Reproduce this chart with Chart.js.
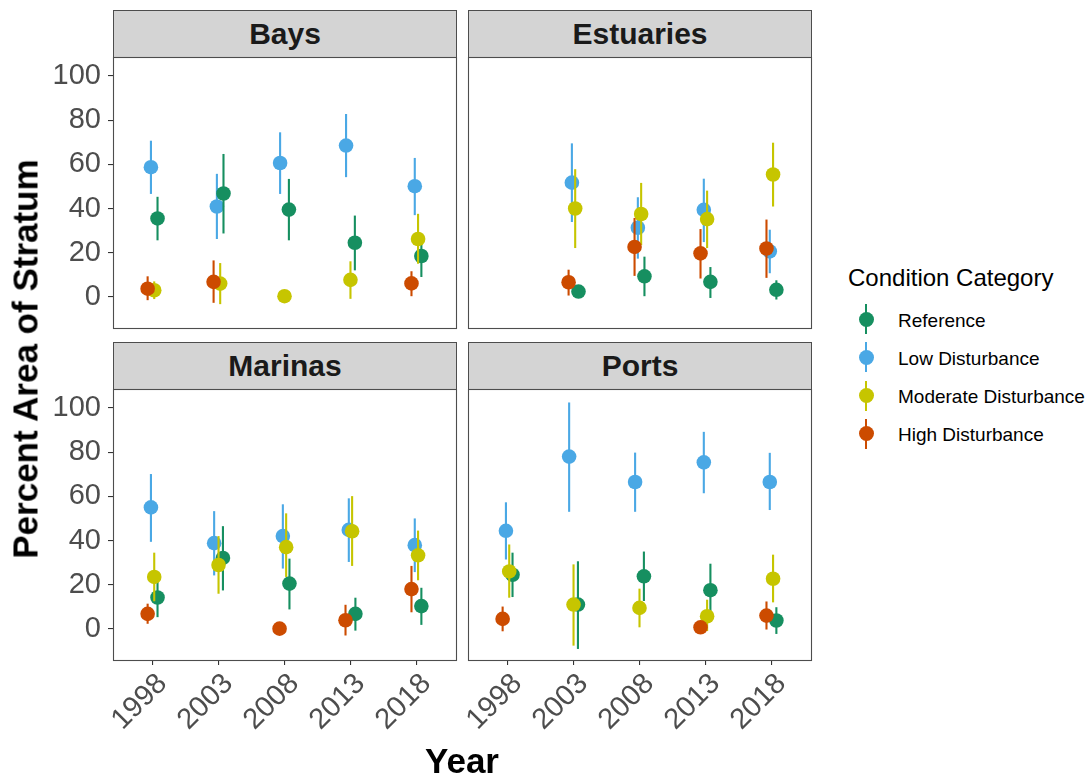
<!DOCTYPE html>
<html>
<head>
<meta charset="utf-8">
<script src="https://cdn.jsdelivr.net/npm/chart.js@4.4.1/dist/chart.umd.min.js"></script>
<style>
  body { margin: 0; background: #fff; font-family: "Liberation Sans", Arial, Helvetica, sans-serif; }
  #wrap { position: relative; width: 1089px; height: 776px; overflow: hidden; }
  canvas { position: absolute; }
  .strip { position: absolute; box-sizing: border-box; background: #d4d4d4; border: 1px solid #4d4d4d;
           font-weight: bold; font-size: 30px; color: #1a1a1a; text-align: center; }
  .title { position: absolute; font-weight: bold; font-size: 35px; line-height: 35px; color: #000; white-space: nowrap; }
  .legend-title { position: absolute; font-size: 24px; line-height: 24px; color: #000; white-space: nowrap; }
  .legend-label { position: absolute; font-size: 19px; line-height: 19px; color: #000; white-space: nowrap; }
  .key-line { position: absolute; width: 2px; }
  .key-dot { position: absolute; width: 15px; height: 15px; border-radius: 50%; }
</style>
</head>
<body>
<div id="wrap"></div>
<script>
// ---- data ----
const years = ['1998', '2003', '2008', '2013', '2018'];
const categories = ['Reference', 'Low Disturbance', 'Moderate Disturbance', 'High Disturbance'];
const panelNames = ['Bays', 'Estuaries', 'Marinas', 'Ports'];
const yTicks = [0, 20, 40, 60, 80, 100];

// rows follow categories, columns follow years; null = no estimate
const baysEst = [
  [35.5, 46.8, 39.5, 24.5, 18.5],
  [58.7, 40.9, 60.6, 68.5, 50.1],
  [3.0, 6.0, 0.3, 7.7, 26.2],
  [3.7, 6.8, null, null, 6.1]
];
const baysLo = [
  [25.6, 28.7, 25.6, 12.0, 9.0],
  [46.6, 26.2, 46.6, 54.2, 37.0],
  [-1.0, -3.3, null, -0.9, 15.0],
  [-1.5, -2.7, null, null, 0.3]
];
const baysHi = [
  [45.3, 64.7, 53.4, 36.8, 28.0],
  [70.7, 55.7, 74.5, 82.8, 62.9],
  [7.0, 15.3, null, 16.1, 37.6],
  [9.3, 16.5, null, null, 11.6]
];

const estuariesEst = [
  [null, 2.4, 9.3, 6.8, 3.2],
  [null, 51.7, 31.3, 39.4, 20.6],
  [null, 40.0, 37.5, 35.2, 55.4],
  [null, 6.6, 22.6, 19.7, 21.9]
];
const estuariesLo = [
  [null, null, 0.3, -0.5, -1.2],
  [null, 33.9, 17.3, 24.8, 10.7],
  [null, 22.1, 23.4, 22.1, 40.9],
  [null, 0.6, 9.5, 8.3, 8.6]
];
const estuariesHi = [
  [null, null, 18.2, 13.5, 7.5],
  [null, 69.5, 45.1, 53.5, 30.4],
  [null, 57.8, 51.6, 48.1, 69.8],
  [null, 12.3, 35.7, 30.7, 35.0]
];

const marinasEst = [
  [14.2, 32.1, 20.5, 6.8, 10.3],
  [55.0, 38.8, 42.0, 44.8, 37.9],
  [23.5, 28.9, 37.0, 44.2, 33.3],
  [6.8, null, 0.1, 3.9, 18.0]
];
const marinasLo = [
  [5.3, 17.4, 8.8, -0.8, 1.8],
  [39.4, 24.2, 27.3, 30.3, 25.7],
  [12.5, 15.9, 23.5, 28.5, 22.0],
  [2.3, null, null, -3.0, 7.5]
];
const marinasHi = [
  [23.0, 46.5, 31.8, 14.1, 18.6],
  [70.1, 53.3, 56.4, 59.1, 50.0],
  [34.5, 42.0, 52.3, 60.1, 44.5],
  [11.4, null, null, 10.9, 28.5]
];

const portsEst = [
  [24.5, 11.0, 23.8, 17.5, 3.8],
  [44.4, 78.0, 66.5, 75.4, 66.5],
  [26.0, 11.0, 9.5, 5.7, 22.7],
  [4.5, null, null, 0.7, 6.0]
];
const portsLo = [
  [14.4, -9.1, 12.6, 5.5, -2.3],
  [31.4, 53.0, 53.0, 61.4, 53.8],
  [14.1, -7.6, 0.7, -1.0, 12.0],
  [-1.1, null, null, null, -0.3]
];
const portsHi = [
  [34.5, 30.6, 35.0, 29.5, 9.8],
  [57.3, 102.5, 79.8, 89.2, 79.7],
  [38.2, 29.2, 18.2, 13.2, 33.6],
  [10.1, null, null, null, 12.4]
];

// ---- look ----
const colors = ['#168f60', '#4aa8e5', '#c6c500', '#cc4b00'];
const dodgeOrder = [3, 1, 2, 0];   // left-to-right order within a year
const drawOrder = [3, 4, 2, 1];    // chart.js: higher order is drawn underneath
const dodgeWidth = 0.2;
const FONT = '"Liberation Sans", Arial, Helvetica, sans-serif';

const PANEL_W = 343, PANEL_H = 271, PAD = 3, XAXIS_H = 85;
const colLeft = [113, 468];
const rowTop = [57, 389];
const yMin = -14.1, yMax = 108.6;

const wrap = document.getElementById('wrap');

function offsetsAt(est, j) {
  const present = dodgeOrder.filter(c => est[c][j] != null);
  const n = present.length;
  const off = {};
  present.forEach((c, k) => { off[c] = (k - (n - 1) / 2) * dodgeWidth / n; });
  return off;
}

function buildDatasets(est, lo, hi) {
  return categories.map((name, c) => ({
    label: name,
    data: years.map((yr, j) => {
      if (est[c][j] == null) return null;
      return { x: j + 1 + offsetsAt(est, j)[c], y: est[c][j], lo: lo[c][j], hi: hi[c][j] };
    }).filter(d => d),
    backgroundColor: colors[c],
    pointRadius: 7.3,
    pointHoverRadius: 7.3,
    pointBorderWidth: 0,
    order: drawOrder[c]
  }));
}

const errorBars = {
  id: 'errorBars',
  beforeDatasetDraw(chart, args) {
    const ds = chart.data.datasets[args.index];
    const yScale = chart.scales.y;
    const a = chart.chartArea;
    const ctx = chart.ctx;
    ctx.save();
    ctx.beginPath();
    ctx.rect(a.left, a.top, a.right - a.left, a.bottom - a.top);
    ctx.clip();
    ctx.strokeStyle = ds.backgroundColor;
    ctx.lineWidth = 2.1;
    args.meta.data.forEach((pt, i) => {
      const d = ds.data[i];
      if (d.lo == null || d.hi == null) return;
      ctx.beginPath();
      ctx.moveTo(pt.x, yScale.getPixelForValue(d.lo));
      ctx.lineTo(pt.x, yScale.getPixelForValue(d.hi));
      ctx.stroke();
    });
    ctx.restore();
  },
  afterDraw(chart) {
    const a = chart.chartArea;
    const ctx = chart.ctx;
    ctx.save();
    ctx.strokeStyle = '#4d4d4d';
    ctx.lineWidth = 1.1;
    ctx.strokeRect(a.left + 0.5, a.top + 0.5, a.right - a.left, a.bottom - a.top);
    ctx.restore();
  }
};

function makePanel(p, est, lo, hi) {
  const col = p % 2, row = Math.floor(p / 2);
  const showY = col === 0, showX = row === 1;
  const axW = showY ? colLeft[0] : 60;
  const left = colLeft[col], top = rowTop[row];

  // strip
  const strip = document.createElement('div');
  strip.className = 'strip';
  strip.style.left = left + 'px';
  strip.style.top = (top - 47) + 'px';
  strip.style.width = (PANEL_W + 1) + 'px';
  strip.style.height = '48px';
  strip.style.lineHeight = '46px';
  strip.textContent = panelNames[p];
  wrap.appendChild(strip);

  const canvas = document.createElement('canvas');
  const w = axW + PANEL_W + PAD;
  const h = PAD + PANEL_H + (showX ? XAXIS_H : PAD);
  canvas.width = w; canvas.height = h;
  canvas.style.left = (left - axW) + 'px';
  canvas.style.top = (top - PAD) + 'px';
  canvas.style.width = w + 'px'; canvas.style.height = h + 'px';
  wrap.appendChild(canvas);

  new Chart(canvas.getContext('2d'), {
    type: 'scatter',
    data: { datasets: buildDatasets(est, lo, hi) },
    options: {
      responsive: false,
      animation: false,
      events: [],
      layout: { autoPadding: false, padding: { top: PAD, right: PAD, left: 0, bottom: 0 } },
      plugins: { legend: { display: false }, tooltip: { enabled: false } },
      scales: {
        x: {
          type: 'linear', min: 0.4, max: 5.6,
          afterBuildTicks: s => { s.ticks = years.map((yr, i) => ({ value: i + 1 })); },
          afterFit: s => { s.height = showX ? XAXIS_H : PAD; s.paddingLeft = 0; s.paddingRight = 0; },
          ticks: {
            display: showX, autoSkip: false, minRotation: 45, maxRotation: 45,
            padding: 2, labelOffset: 10, color: '#4d4d4d',
            font: { family: FONT, size: 29 },
            callback: v => years[Math.round(v) - 1]
          },
          grid: { display: showX, drawOnChartArea: false, drawTicks: true, tickLength: 5, color: '#333', lineWidth: 1.1 },
          border: { display: false }
        },
        y: {
          min: yMin, max: yMax,
          afterBuildTicks: s => { s.ticks = yTicks.map(v => ({ value: v })); },
          afterFit: s => { s.width = axW; s.paddingTop = 0; s.paddingBottom = 0; },
          ticks: {
            display: showY, padding: 7, color: '#4d4d4d',
            font: { family: FONT, size: 29 }
          },
          grid: { display: showY, drawOnChartArea: false, drawTicks: true, tickLength: 5, color: '#333', lineWidth: 1.1 },
          border: { display: false }
        }
      }
    },
    plugins: [errorBars]
  });
}

makePanel(0, baysEst, baysLo, baysHi);
makePanel(1, estuariesEst, estuariesLo, estuariesHi);
makePanel(2, marinasEst, marinasLo, marinasHi);
makePanel(3, portsEst, portsLo, portsHi);

// axis titles
const yTitle = document.createElement('div');
yTitle.className = 'title';
yTitle.textContent = 'Percent Area of Stratum';
yTitle.style.left = '25px';
yTitle.style.top = '359px';
yTitle.style.transform = 'translate(-50%, -50%) rotate(-90deg)';
wrap.appendChild(yTitle);

const xTitle = document.createElement('div');
xTitle.className = 'title';
xTitle.textContent = 'Year';
xTitle.style.left = '462px';
xTitle.style.top = '760px';
xTitle.style.transform = 'translate(-50%, -50%)';
wrap.appendChild(xTitle);

// legend
const legTitle = document.createElement('div');
legTitle.className = 'legend-title';
legTitle.textContent = 'Condition Category';
legTitle.style.left = '848px';
legTitle.style.top = '266px';
wrap.appendChild(legTitle);

categories.forEach((name, c) => {
  const cy = 319.3 + c * 38.1;
  const line = document.createElement('div');
  line.className = 'key-line';
  line.style.background = colors[c];
  line.style.left = '865px';
  line.style.top = (cy - 15) + 'px';
  line.style.height = '30px';
  wrap.appendChild(line);
  const dot = document.createElement('div');
  dot.className = 'key-dot';
  dot.style.background = colors[c];
  dot.style.left = '858.5px';
  dot.style.top = (cy - 7.5) + 'px';
  wrap.appendChild(dot);
  const lab = document.createElement('div');
  lab.className = 'legend-label';
  lab.textContent = name;
  lab.style.left = '898px';
  lab.style.top = (cy - 8.7) + 'px';
  wrap.appendChild(lab);
});
</script>
</body>
</html>
